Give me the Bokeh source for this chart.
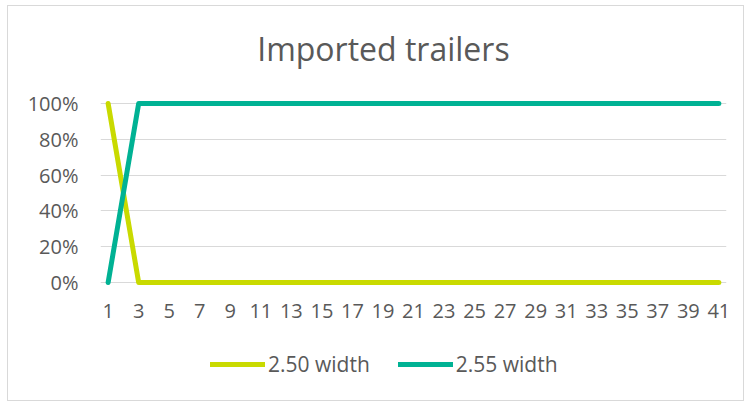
from bokeh.plotting import figure
from bokeh.models import (ColumnDataSource, FixedTicker, NumeralTickFormatter,
                          Range1d, Label, Legend, LegendItem, LinearAxis)
from bokeh.embed import file_html
from bokeh.resources import INLINE

title_text = "Imported trailers"
categories = [1, 2, 3, 4, 5, 6, 7, 8, 9, 10, 11, 12, 13, 14, 15, 16, 17, 18, 19, 20,
              21, 22, 23, 24, 25, 26, 27, 28, 29, 30, 31, 32, 33, 34, 35, 36, 37, 38, 39, 40, 41]
width_250 = [1.00, 0.50, 0.00, 0.00, 0.00, 0.00, 0.00, 0.00, 0.00, 0.00,
             0.00, 0.00, 0.00, 0.00, 0.00, 0.00, 0.00, 0.00, 0.00, 0.00,
             0.00, 0.00, 0.00, 0.00, 0.00, 0.00, 0.00, 0.00, 0.00, 0.00,
             0.00, 0.00, 0.00, 0.00, 0.00, 0.00, 0.00, 0.00, 0.00, 0.00, 0.00]
width_255 = [0.00, 0.50, 1.00, 1.00, 1.00, 1.00, 1.00, 1.00, 1.00, 1.00,
             1.00, 1.00, 1.00, 1.00, 1.00, 1.00, 1.00, 1.00, 1.00, 1.00,
             1.00, 1.00, 1.00, 1.00, 1.00, 1.00, 1.00, 1.00, 1.00, 1.00,
             1.00, 1.00, 1.00, 1.00, 1.00, 1.00, 1.00, 1.00, 1.00, 1.00, 1.00]
series_names = ["2.50 width", "2.55 width"]
x_tick_values = [1, 3, 5, 7, 9, 11, 13, 15, 17, 19, 21, 23, 25, 27, 29, 31, 33, 35, 37, 39, 41]
y_tick_values = [0, 0.2, 0.4, 0.6, 0.8, 1.0]

FONT = "Open Sans"
TXT = "#595959"
GRID = "#D9D9D9"
C1 = "#C9DA00"
C2 = "#00B294"

src = ColumnDataSource(dict(x=categories, a=width_250, b=width_255))

# frame spans the whole chart height so that title and legend are not clipped;
# 179 px per 100 %, 0 % sits 120 px above the bottom edge
p = figure(width=737, height=396, output_backend="svg", toolbar_location=None,
           x_range=Range1d(0.5, 41.5), y_range=Range1d(-120 / 179, 1 + 97 / 179),
           x_axis_location=None,
           min_border_left=92, min_border_right=19, min_border_top=0, min_border_bottom=0)
p.title = None
p.outline_line_color = None
p.background_fill_color = "white"
p.border_fill_color = "white"
p.styles = {"border": "1px solid #D9D9D9", "margin": "5px 0 0 7px"}

r1 = p.line("x", "a", source=src, line_color=C1, line_width=5, line_cap="round", line_join="round")
r2 = p.line("x", "b", source=src, line_color=C2, line_width=5, line_cap="round", line_join="round")

p.xgrid.grid_line_color = None
p.ygrid.grid_line_color = GRID
p.ygrid.grid_line_width = 1
p.ygrid.ticker = FixedTicker(ticks=y_tick_values)

p.yaxis.ticker = FixedTicker(ticks=y_tick_values)
p.yaxis.formatter = NumeralTickFormatter(format="0%")
p.yaxis.axis_line_color = None
p.yaxis.major_tick_line_color = None
p.yaxis.minor_tick_line_color = None
p.yaxis.major_label_standoff = 16
p.yaxis.major_label_text_font = FONT
p.yaxis.major_label_text_font_size = "20px"
p.yaxis.major_label_text_color = TXT

# the 0 % gridline (under the lines) serves as the category axis line
xaxis = LinearAxis(ticker=FixedTicker(ticks=x_tick_values), fixed_location=0,
                   axis_line_color=None, major_tick_line_color=None, minor_tick_line_color=None,
                   major_label_standoff=-41, major_label_text_font=FONT,
                   major_label_text_font_size="20px", major_label_text_color=TXT)
p.add_layout(xaxis, "above")

title = Label(x=19.03, y=1.307, text=title_text, text_align="center", text_baseline="middle",
              text_font=FONT, text_font_size="32px", text_color=TXT)
p.add_layout(title)

legend = Legend(items=[LegendItem(label=series_names[0], renderers=[r1]),
                       LegendItem(label=series_names[1], renderers=[r2])],
                orientation="horizontal", location=(110, 24),
                padding=0, margin=0, spacing=28, label_standoff=3,
                glyph_width=55, glyph_height=20,
                border_line_color=None, background_fill_alpha=0,
                label_text_font=FONT, label_text_font_size="21px", label_text_color=TXT)
p.add_layout(legend, "center")

open("out.html", "w").write(file_html(p, INLINE))
